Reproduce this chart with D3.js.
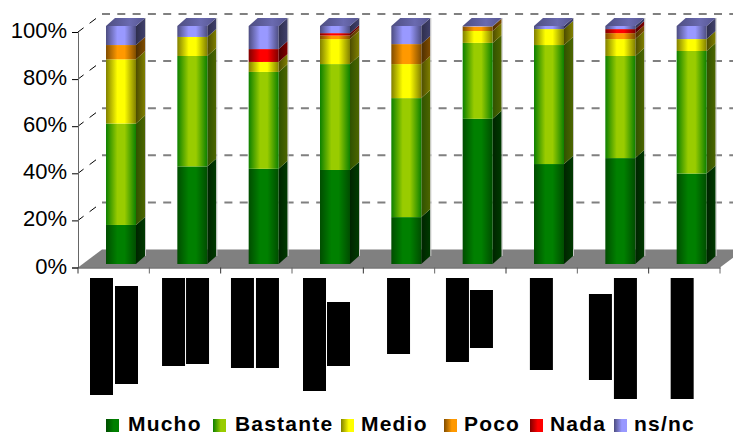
<!DOCTYPE html>
<html>
<head>
<meta charset="utf-8">
<script src="https://cdn.jsdelivr.net/npm/d3@7"></script>
<style>
    html, body { margin: 0; padding: 0; background: #fff; }
    svg { display: block; }
    text { font-family: "Liberation Sans", Arial, sans-serif; fill: #000; }
</style>
</head>
<body>
<div id="chart"></div>
<script>
const categories = ["c1", "c2", "c3", "c4", "c5", "c6", "c7", "c8", "c9"];
const seriesNames = ["Mucho", "Bastante", "Medio", "Poco", "Nada", "ns/nc"];
const mucho = [16.4, 41, 40, 39.5, 19.7, 61, 42, 44.5, 38];
const bastante = [42.6, 46.4, 40.7, 44.5, 50, 31.9, 50, 42.9, 51.5];
const medio = [27, 8, 4.2, 10.5, 14.3, 5, 6.7, 7.1, 5];
const poco = [6, 0, 0, 1.5, 8.4, 1.9, 0, 2.5, 0];
const nada = [0, 0, 5.4, 1, 0, 0, 0, 1.7, 0];
const nsnc = [8, 4.6, 9.7, 3, 7.6, 0.2, 1.3, 1.3, 5.5];
const yTicks = [0, 20, 40, 60, 80, 100];

// the category labels are blacked out in the picture: [category, left offset, top, bottom]
const labelBlocks = [
    [0, 12, 278, 395], [0, 37, 286, 384],
    [1, 12.7, 278, 366], [1, 36.7, 278, 364],
    [2, 10.3, 278, 368], [2, 35.3, 278, 368],
    [3, 11, 278, 391], [3, 35, 302, 366],
    [4, 23.7, 278, 354],
    [5, 11.3, 278, 362], [5, 35.3, 290, 348],
    [6, 23.9, 278, 370],
    [7, 11.6, 294, 380], [7, 36.6, 278, 399],
    [8, 22, 278, 399]
];

const colours = {
    "Mucho": { edge: "#004d00", mid: "#008000", side: "#003a00", sideDark: "#002400" },
    "Bastante": { edge: "#0d8000", mid: "#99cc00", side: "#4d6600", sideDark: "#2f5200" },
    "Medio": { edge: "#808000", mid: "#ffff00", side: "#808000", sideDark: "#4d4d00" },
    "Poco": { edge: "#804d00", mid: "#ff9900", side: "#804d00", sideDark: "#4d2e00" },
    "Nada": { edge: "#800000", mid: "#ff0000", side: "#800000", sideDark: "#4d0000" },
    "ns/nc": { edge: "#4d4d80", mid: "#9999ff", side: "#40406b", sideDark: "#2e2e4d" }
};

const width = 733, height = 433;
const depth = { x: 24, y: 18 };
const barDepth = { x: 9, y: 8 };
const barWidth = 30;

const svg = d3.select("#chart").append("svg")
    .attr("width", width)
    .attr("height", height);

const x = d3.scaleBand().domain(categories).range([78, 720]);
const y = d3.scaleLinear().domain([0, 100]).range([267.5, 32]);
const yBar = d3.scaleLinear().domain([0, 100]).range([264, 26]);
const barX = c => x(c) + 28;

// gradients
const defs = svg.append("defs");
const slug = name => name.replace("/", "");
seriesNames.forEach(name => {
    const c = colours[name];
    const front = defs.append("linearGradient").attr("id", `front-${slug(name)}`);
    [[0, c.edge], [0.38, c.mid], [0.62, c.mid], [1, c.edge]].forEach(([o, col]) => {
        front.append("stop").attr("offset", o).attr("stop-color", col);
    });
    const side = defs.append("linearGradient").attr("id", `side-${slug(name)}`);
    side.append("stop").attr("offset", 0).attr("stop-color", c.sideDark);
    side.append("stop").attr("offset", 1).attr("stop-color", c.side);
    const swatch = defs.append("linearGradient").attr("id", `swatch-${slug(name)}`);
    swatch.append("stop").attr("offset", 0).attr("stop-color", c.edge);
    swatch.append("stop").attr("offset", 0.6).attr("stop-color", c.mid);
    swatch.append("stop").attr("offset", 1).attr("stop-color", c.mid);
});
const topFace = defs.append("linearGradient").attr("id", "top-face");
topFace.append("stop").attr("offset", 0).attr("stop-color", "#4d4d80");
topFace.append("stop").attr("offset", 0.6).attr("stop-color", "#6a6ab0");
topFace.append("stop").attr("offset", 1).attr("stop-color", "#565690");

// back wall gridlines and the slanted bits on the side wall
yTicks.forEach(t => {
    if (t > 0) {
        svg.append("line")
            .attr("x1", 102).attr("x2", width)
            .attr("y1", y(t) - depth.y).attr("y2", y(t) - depth.y)
            .attr("stroke", "#808080")
            .attr("stroke-width", 2)
            .attr("stroke-dasharray", "8,7.3");
        svg.append("line")
            .attr("x1", 78).attr("x2", 102)
            .attr("y1", y(t)).attr("y2", y(t) - depth.y)
            .attr("stroke", "#000")
            .attr("stroke-dasharray", "7,7.5,8,10");
    }
});

// floor
svg.append("path")
    .attr("d", `M${x.range()[0]},${y(0)} L${x.range()[0] + depth.x},${y(0) - depth.y} L${x.range()[1] + depth.x},${y(0) - depth.y} L${x.range()[1]},${y(0)} Z`)
    .attr("fill", "#808080");

// axes
const yAxis = svg.append("g")
    .attr("transform", "translate(78,0)")
    .call(d3.axisLeft(y).tickValues(yTicks).tickSize(6).tickPadding(5).tickFormat(d => d + "%"));
yAxis.select(".domain").attr("stroke", "#666");
yAxis.selectAll("line").attr("stroke", "#000");
yAxis.selectAll("text")
    .style("font-size", "22px")
    .attr("fill", "#000")
    .attr("y", -1.5);

const xAxis = svg.append("g")
    .attr("transform", `translate(0,${y(0)})`)
    .call(d3.axisBottom(x).tickValues([]).tickSize(0));
xAxis.select(".domain").attr("stroke", "#333");
const xTicks = categories.map(c => x(c)).concat(x.range()[1]);
xAxis.selectAll(".tick-mark").data(xTicks).join("line")
    .attr("class", "tick-mark")
    .attr("x1", d => d).attr("x2", d => d)
    .attr("y1", 0).attr("y2", 6)
    .attr("stroke", (d, i) => i % 2 ? "#666" : "#333");

// bars
const rows = categories.map((c, i) => ({
    c,
    "Mucho": mucho[i], "Bastante": bastante[i], "Medio": medio[i],
    "Poco": poco[i], "Nada": nada[i], "ns/nc": nsnc[i]
}));
const stacked = d3.stack().keys(seriesNames)(rows);

const bars = svg.append("g");
stacked.forEach(layer => {
    const name = layer.key;
    const g = bars.append("g");
    const visible = layer.filter(d => d[1] > d[0]);

    g.selectAll(".side").data(visible).join("path")
        .attr("fill", `url(#side-${slug(name)})`)
        .attr("d", d => {
            const r = barX(d.data.c) + barWidth;
            const y0 = yBar(d[0]), y1 = yBar(d[1]);
            return `M${r},${y0} L${r + barDepth.x},${y0 - barDepth.y} L${r + barDepth.x},${y1 - barDepth.y} L${r},${y1} Z`;
        });

    g.selectAll(".front").data(visible).join("rect")
        .attr("x", d => barX(d.data.c))
        .attr("y", d => yBar(d[1]))
        .attr("width", barWidth)
        .attr("height", d => yBar(d[0]) - yBar(d[1]))
        .attr("fill", `url(#front-${slug(name)})`);
});

// top faces
bars.selectAll(".top").data(rows).join("path")
    .attr("fill", "url(#top-face)")
    .attr("d", d => {
        const l = barX(d.c), t = yBar(100);
        return `M${l},${t} L${l + barDepth.x},${t - barDepth.y} L${l + barWidth + barDepth.x},${t - barDepth.y} L${l + barWidth},${t} Z`;
    });

// thin pale edge on the far side of each bar
bars.selectAll(".edge").data(rows).join("line")
    .attr("x1", d => barX(d.c) + barWidth + barDepth.x + 0.5)
    .attr("x2", d => barX(d.c) + barWidth + barDepth.x + 0.5)
    .attr("y1", yBar(100) - barDepth.y)
    .attr("y2", yBar(0) - barDepth.y)
    .attr("stroke", "#c8c8c8");

// blacked out category labels
svg.append("g").selectAll("rect").data(labelBlocks).join("rect")
    .attr("x", d => x(categories[d[0]]) + d[1])
    .attr("y", d => d[2])
    .attr("width", 23)
    .attr("height", d => d[3] - d[2])
    .attr("fill", "#000");

// legend
const swatchX = [106, 213, 341, 444, 530, 614];
const legendTextX = [128, 235, 361, 464, 550, 634];
const legend = svg.append("g").selectAll("g").data(seriesNames).join("g");
legend.append("rect")
    .attr("x", (d, i) => swatchX[i])
    .attr("y", 419).attr("width", 13).attr("height", 13)
    .attr("fill", d => `url(#swatch-${slug(d)})`);
legend.append("text")
    .attr("x", (d, i) => legendTextX[i])
    .attr("y", 431)
    .style("font-size", "21px")
    .style("font-weight", "bold")
    .style("letter-spacing", "1.2px")
    .text(d => d);
</script>
</body>
</html>
